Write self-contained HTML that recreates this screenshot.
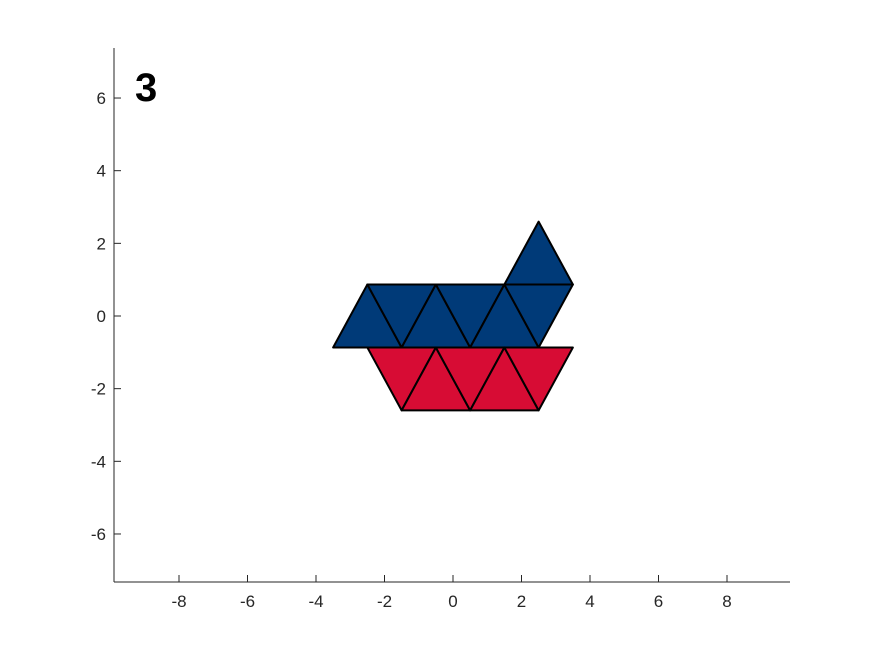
<!DOCTYPE html>
<html><head><meta charset="utf-8"><style>
body{margin:0;background:#fff}
svg text{font-family:"Liberation Sans",sans-serif}
</style></head><body>
<svg width="875" height="656" xmlns="http://www.w3.org/2000/svg">
<rect width="875" height="656" fill="#fff"/>
<g id="axes"></g>
<g id="tris"></g>
<text x="135" y="101" font-size="40" font-weight="bold" fill="#000">3</text>
</svg>
<script>
const h=0.866;
const blueTris=[
[[-3.5,-h],[-1.5,-h],[-2.5,h]],
[[-2.5,h],[-0.5,h],[-1.5,-h]],
[[-1.5,-h],[0.5,-h],[-0.5,h]],
[[-0.5,h],[1.5,h],[0.5,-h]],
[[0.5,-h],[2.5,-h],[1.5,h]],
[[1.5,h],[3.5,h],[2.5,-h]],
[[1.5,h],[3.5,h],[2.5,2.598]]];
const redTris=[
[[-2.5,-h],[-0.5,-h],[-1.5,-2.598]],
[[-1.5,-2.598],[0.5,-2.598],[-0.5,-h]],
[[-0.5,-h],[1.5,-h],[0.5,-2.598]],
[[0.5,-2.598],[2.5,-2.598],[1.5,-h]],
[[1.5,-h],[3.5,-h],[2.5,-2.598]]];
const xTicks=[-8,-6,-4,-2,0,2,4,6,8];
const yTicks=[-6,-4,-2,0,2,4,6];
const X=v=>453+v*34.25, Y=v=>316-v*36.33;
const NS='http://www.w3.org/2000/svg';
const ax=document.getElementById('axes'), tg=document.getElementById('tris');
function mk(t,a,p){const e=document.createElementNS(NS,t);for(const k in a)e.setAttribute(k,a[k]);p.appendChild(e);return e;}
const xl=mk('line',{x1:114,y1:582,x2:790,y2:582,stroke:'#262626'},ax);


const yl=mk('line',{x1:114,y1:48,x2:114,y2:582,stroke:'#262626'},ax);


xTicks.forEach(v=>{
 mk('line',{x1:X(v),y1:582,x2:X(v),y2:575,stroke:'#262626'},ax);
 const t=mk('text',{x:X(v),y:607,'font-size':17,'text-anchor':'middle',fill:'#262626'},ax);
 t.textContent=v;
 
 
});
yTicks.forEach(v=>{
 mk('line',{x1:114,y1:Y(v),x2:121,y2:Y(v),stroke:'#262626'},ax);
 const t=mk('text',{x:106,y:Y(v)+6,'font-size':17,'text-anchor':'end',fill:'#262626'},ax);
 t.textContent=v;
 
 
});
function draw(arr,col,name){arr.forEach(tr=>{
 const p=mk('polygon',{points:tr.map(q=>X(q[0])+','+Y(q[1])).join(' '),fill:col,stroke:'#000','stroke-width':2,'stroke-linejoin':'round'},tg);
 
 
});}
draw(blueTris,'#003A78','blue-triangle');
draw(redTris,'#D70C34','red-triangle');
</script>
</body></html>
